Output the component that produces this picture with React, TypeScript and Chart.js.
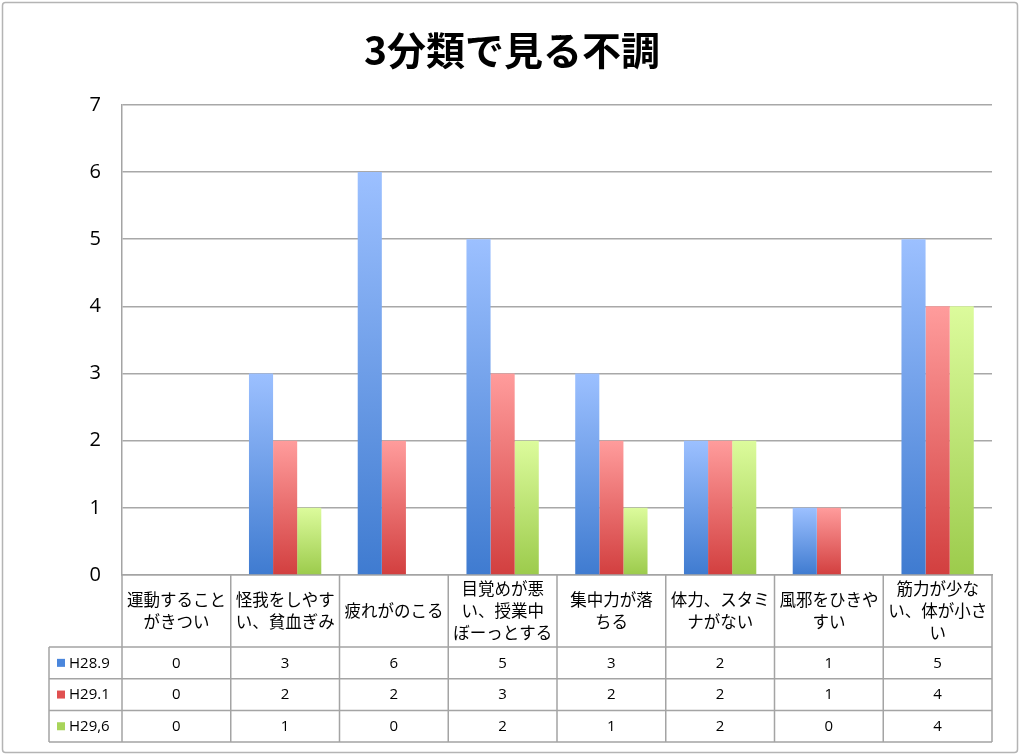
import React, { useEffect, useRef } from "react";
import { Chart, registerables } from "chart.js";

Chart.register(...registerables);

const TITLE = "3分類で見る不調";
const categories: string[][] = [
  ["運動すること", "がきつい"],
  ["怪我をしやす", "い、貧血ぎみ"],
  ["疲れがのこる"],
  ["目覚めが悪", "い、授業中", "ぼーっとする"],
  ["集中力が落", "ちる"],
  ["体力、スタミ", "ナがない"],
  ["風邪をひきや", "すい"],
  ["筋力が少な", "い、体が小さ", "い"],
];
const seriesNames = ["H28.9", "H29.1", "H29,6"];
const h28_9 = [0, 3, 6, 5, 3, 2, 1, 5];
const h29_1 = [0, 2, 2, 3, 2, 2, 1, 4];
const h29_6 = [0, 1, 0, 2, 1, 2, 0, 4];
const yTicks = [0, 1, 2, 3, 4, 5, 6, 7];

const gradTop = ["#9cc0ff", "#ff9c9c", "#dcfb9c"];
const gradBottom = ["#3f7bd0", "#d23f3f", "#9ccb4c"];
const keyColors = ["#4a86dc", "#e05050", "#a8d45a"];

const FONT = "'Open Sans', 'Noto Sans CJK JP', sans-serif";
const JFONT = "'Noto Sans CJK JP', sans-serif";

const makeGrad = (i: number) => (ctx: any) => {
  const chart = ctx.chart;
  const y = chart.scales?.y;
  if (!y || ctx.type !== "data") return gradBottom[i];
  const v = ctx.parsed?.y ?? 0;
  const top = y.getPixelForValue(v);
  const base = y.getPixelForValue(0);
  if (!isFinite(top) || !isFinite(base) || Math.abs(top - base) < 1) return gradBottom[i];
  const g = chart.ctx.createLinearGradient(0, top, 0, base);
  g.addColorStop(0, gradTop[i]);
  g.addColorStop(1, gradBottom[i]);
  return g;
};

const framePlugin = {
  id: "frame",
  beforeDraw(chart: any) {
    const c = chart.ctx;
    c.save();
    c.fillStyle = "#ffffff";
    c.fillRect(0, 0, chart.width, chart.height);
    c.strokeStyle = "#b4b4b4";
    c.lineWidth = 1.5;
    c.beginPath();
    (c as any).roundRect(2.5, 2.5, 1015, 750, 3);
    c.stroke();
    c.restore();
  },
};

const tablePlugin = {
  id: "dataTable",
  afterDraw(chart: any) {
    const c = chart.ctx;
    const area = chart.chartArea;
    const xs = chart.scales.x;
    const n = categories.length;
    const w = (area.right - area.left) / n;
    const top = area.bottom;
    const headerBottom = top + 72;
    const rowH = 31.7;
    const tableBottom = headerBottom + rowH * 3;
    const legLeft = 49;
    c.save();
    c.strokeStyle = "#a4a4a4";
    c.lineWidth = 1.5;
    c.beginPath();
    for (let i = 0; i <= n; i++) {
      const x = area.left + i * w;
      c.moveTo(x, top);
      c.lineTo(x, tableBottom);
    }
    c.moveTo(legLeft, headerBottom);
    c.lineTo(legLeft, tableBottom);
    for (let r = 0; r <= 3; r++) {
      const y = headerBottom + r * rowH;
      c.moveTo(legLeft, y);
      c.lineTo(area.right, y);
    }
    c.stroke();

    c.fillStyle = "#000";
    c.textAlign = "center";
    c.textBaseline = "middle";
    c.font = `16.5px ${JFONT}`;
    const lh = 22;
    const mid = (top + headerBottom) / 2;
    categories.forEach((lines, i) => {
      const cx = xs.getPixelForValue(i);
      const start = mid - ((lines.length - 1) * lh) / 2;
      lines.forEach((t, k) => c.fillText(t, cx, start + k * lh));
    });

    const series = [h28_9, h29_1, h29_6];
    c.font = `15px ${FONT}`;
    series.forEach((vals, r) => {
      const cy = headerBottom + r * rowH + rowH / 2;
      c.fillStyle = keyColors[r];
      c.fillRect(57, cy - 4, 8, 8);
      c.fillStyle = "#000";
      c.textAlign = "left";
      c.fillText(seriesNames[r], 69, cy + 0.5);
      c.textAlign = "center";
      vals.forEach((v, i) => {
        c.fillText(String(v), xs.getPixelForValue(i), cy + 0.5);
      });
    });
    c.restore();
  },
};

export default function App() {
  const ref = useRef<HTMLCanvasElement | null>(null);
  useEffect(() => {
    document.body.style.margin = "0";
    if (!ref.current) return;
    const chart = new Chart(ref.current, {
      type: "bar",
      data: {
        labels: categories.map((l) => l.join("")),
        datasets: [h28_9, h29_1, h29_6].map((d, i) => ({
          label: seriesNames[i],
          data: d,
          backgroundColor: makeGrad(i),
          borderWidth: 0,
          categoryPercentage: 0.665,
          barPercentage: 1,
        })),
      },
      options: {
        responsive: false,
        animation: false,
        devicePixelRatio: 1,
        layout: { padding: { left: 32, right: 32, top: 0, bottom: 0 } },
        plugins: {
          legend: { display: false },
          tooltip: { enabled: false },
          title: {
            display: true,
            text: TITLE,
            color: "#000",
            font: { family: JFONT, size: 39, weight: "bold", lineHeight: 1.2 },
            padding: { top: 27, bottom: 31 },
          },
        },
        scales: {
          x: {
            grid: { display: false },
            ticks: { display: false },
            border: { display: true, color: "#a4a4a4", width: 1.5 },
            afterFit: (s: any) => {
              s.height = 180;
            },
          },
          y: {
            min: 0,
            max: 7,
            afterBuildTicks: (s: any) => {
              s.ticks = yTicks.map((v) => ({ value: v }));
            },
            ticks: {
              color: "#000",
              font: { family: FONT, size: 20 },
              padding: 21,
            },
            grid: { color: "#a8a8a8", lineWidth: 1.5, drawTicks: false },
            border: { display: true, color: "#a4a4a4", width: 1.5 },
            afterFit: (s: any) => {
              s.width = 90;
            },
          },
        },
      },
      plugins: [framePlugin, tablePlugin],
    } as any);
    return () => chart.destroy();
  }, []);
  return <canvas ref={ref} width={1024} height={755} style={{ display: "block" }} />;
}
